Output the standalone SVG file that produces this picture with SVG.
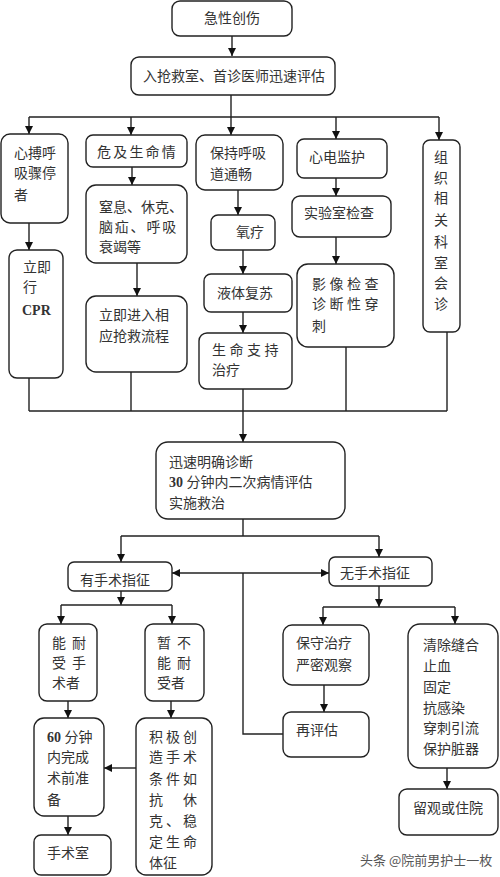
<svg xmlns="http://www.w3.org/2000/svg" width="500" height="877" viewBox="0 0 500 877">
<defs>
<marker id="ah" viewBox="0 0 10 10" markerWidth="8" markerHeight="9" refX="10" refY="5" orient="auto-start-reverse" markerUnits="userSpaceOnUse">
<path d="M0,0 L10,5 L0,10 z" fill="#111"/>
</marker>
<style>
.b{fill:#fff;stroke:#222;stroke-width:1.4}
.t{font-family:"Liberation Serif","Noto Sans CJK SC",serif;font-size:14px;fill:#333}
.c{fill:none;stroke:#222;stroke-width:1.4}
.a{marker-end:url(#ah)}
.wm{font-family:"Noto Sans CJK SC",sans-serif;font-size:13px;fill:#555}
</style>
</defs>
<rect width="500" height="877" fill="#fff"/>
<g id="connectors">
<path class="c a" d="M232 36V56"/>
<path class="c" d="M231 95V117M29 117H439"/>
<path class="c a" d="M29 117V134"/>
<path class="c a" d="M131 117V135"/>
<path class="c a" d="M231 117V135"/>
<path class="c a" d="M336 117V139"/>
<path class="c a" d="M439 117V140"/>
<path class="c a" d="M29 223V250"/>
<path class="c a" d="M132 167V185"/>
<path class="c a" d="M137 263V296"/>
<path class="c a" d="M238 190V215"/>
<path class="c a" d="M243 250V274"/>
<path class="c a" d="M243 312V333"/>
<path class="c a" d="M336 178V196"/>
<path class="c a" d="M336 237V264"/>
<path class="c" d="M29 378V411M131 372V411M243 389V411M346 347V411M447 332V411M29 411H447"/>
<path class="c a" d="M243 411V442"/>
<path class="c" d="M243 519V536M121 536H379"/>
<path class="c a" d="M121 536V562"/>
<path class="c a" d="M379 536V557"/>
<path class="c a" d="M172 573H329" marker-start="url(#ah)"/>
<path class="c" d="M243 573V734H283"/>
<path class="c a" d="M121 591V605"/>
<path class="c" d="M61 605H172"/>
<path class="c a" d="M61 605V624"/>
<path class="c a" d="M172 605V624"/>
<path class="c a" d="M68 701V718"/>
<path class="c a" d="M171 701V718"/>
<path class="c a" d="M136 768H104"/>
<path class="c a" d="M68 816V835"/>
<path class="c a" d="M379 586V607"/>
<path class="c" d="M323 607H455"/>
<path class="c a" d="M323 607V625"/>
<path class="c a" d="M455 607V624"/>
<path class="c a" d="M324 685V712"/>
<path class="c a" d="M447 768V789"/>
</g>
<g id="n1"><rect class="b" x="172" y="1" width="120" height="35" rx="8"/><text class="t" x="204" y="23">急性创伤</text></g>
<g id="n2"><rect class="b" x="131" y="57" width="204" height="38" rx="8"/><text class="t" x="143" y="81">入抢救室、首诊医师迅速评估</text></g>
<g id="n3"><rect class="b" x="1" y="134" width="67" height="89" rx="9"/><text class="t" x="14" y="158">心搏呼</text><text class="t" x="14" y="178">吸骤停</text><text class="t" x="14" y="200">者</text></g>
<g id="n4"><rect class="b" x="9" y="250" width="54" height="128" rx="8"/><text class="t" x="23" y="272">立即</text><text class="t" x="23" y="292">行</text><text class="t" x="22" y="315" font-weight="bold">CPR</text></g>
<g id="n5"><rect class="b" x="86" y="135" width="101" height="32" rx="7"/><text class="t" x="97" y="157" letter-spacing="2.2">危及生命情</text></g>
<g id="n6"><rect class="b" x="86" y="185" width="101" height="78" rx="10"/><text class="t" x="99" y="212">窒息、休克、</text><text class="t" x="99" y="232" letter-spacing="1.8">脑疝、呼吸</text><text class="t" x="99" y="252">衰竭等</text></g>
<g id="n7"><rect class="b" x="86" y="296" width="101" height="76" rx="10"/><text class="t" x="99" y="320">立即进入相</text><text class="t" x="99" y="341">应抢救流程</text></g>
<g id="n8"><rect class="b" x="196" y="135" width="87" height="55" rx="9"/><text class="t" x="210" y="158">保持呼吸</text><text class="t" x="210" y="179">道通畅</text></g>
<g id="n9"><rect class="b" x="211" y="215" width="64" height="35" rx="7"/><text class="t" x="236" y="237">氧疗</text></g>
<g id="n10"><rect class="b" x="204" y="274" width="88" height="38" rx="7"/><text class="t" x="217" y="298">液体复苏</text></g>
<g id="n11"><rect class="b" x="199" y="333" width="93" height="56" rx="8"/><text class="t" x="212" y="355" letter-spacing="3.5">生命支持</text><text class="t" x="212" y="375">治疗</text></g>
<g id="n12"><rect class="b" x="297" y="139" width="90" height="39" rx="7"/><text class="t" x="309" y="162">心电监护</text></g>
<g id="n13"><rect class="b" x="292" y="196" width="99" height="41" rx="8"/><text class="t" x="304" y="218">实验室检查</text></g>
<g id="n14"><rect class="b" x="297" y="264" width="97" height="83" rx="11"/><text class="t" x="312" y="289" letter-spacing="3.5">影像检查</text><text class="t" x="312" y="309" letter-spacing="3.5">诊断性穿</text><text class="t" x="312" y="331">刺</text></g>
<g id="n15"><rect class="b" x="423" y="140" width="37" height="192" rx="7"/>
<text class="t" text-anchor="middle" x="441" y="162">组</text><text class="t" text-anchor="middle" x="441" y="183">织</text><text class="t" text-anchor="middle" x="441" y="203">相</text><text class="t" text-anchor="middle" x="441" y="225">关</text><text class="t" text-anchor="middle" x="441" y="247">科</text><text class="t" text-anchor="middle" x="441" y="268">室</text><text class="t" text-anchor="middle" x="441" y="288">会</text><text class="t" text-anchor="middle" x="441" y="309">诊</text></g>
<g id="n16"><rect class="b" x="156" y="442" width="189" height="77" rx="12"/><text class="t" x="169" y="467">迅速明确诊断</text><text class="t" x="169" y="487"><tspan font-weight="bold">30</tspan> 分钟内二次病情评估</text><text class="t" x="169" y="508">实施救治</text></g>
<g id="n17"><rect class="b" x="68" y="562" width="104" height="29" rx="6"/><text class="t" x="80" y="585">有手术指征</text></g>
<g id="n18"><rect class="b" x="329" y="557" width="103" height="29" rx="6"/><text class="t" x="340" y="578">无手术指征</text></g>
<g id="n19"><rect class="b" x="39" y="624" width="58" height="77" rx="8"/><text class="t" x="52 72" y="648">能耐</text><text class="t" x="52 72" y="668">受手</text><text class="t" x="52" y="688">术者</text></g>
<g id="n20"><rect class="b" x="145" y="624" width="59" height="77" rx="8"/><text class="t" x="157 177" y="648">暂不</text><text class="t" x="157 177" y="668">能耐</text><text class="t" x="157" y="688">受者</text></g>
<g id="n21"><rect class="b" x="34" y="718" width="70" height="98" rx="10"/><text class="t" x="47" y="742"><tspan font-weight="bold">60</tspan> 分钟</text><text class="t" x="47" y="762">内完成</text><text class="t" x="47" y="783">术前准</text><text class="t" x="47" y="805">备</text></g>
<g id="n22"><rect class="b" x="34" y="835" width="77" height="40" rx="7"/><text class="t" x="47" y="858">手术室</text></g>
<g id="n23"><rect class="b" x="136" y="718" width="76" height="157" rx="10"/>
<text class="t" x="149 166 183" y="742">积极创</text><text class="t" x="149 166 183" y="762">造手术</text><text class="t" x="149 166 183" y="784">条件如</text><text class="t" x="149 183" y="805">抗休</text><text class="t" x="149 166 183" y="826">克、稳</text><text class="t" x="149 166 183" y="847">定生命</text><text class="t" x="149" y="868">体征</text></g>
<g id="n24"><rect class="b" x="283" y="625" width="86" height="60" rx="9"/><text class="t" x="296" y="648">保守治疗</text><text class="t" x="296" y="670">严密观察</text></g>
<g id="n25"><rect class="b" x="283" y="712" width="86" height="45" rx="8"/><text class="t" x="296" y="735">再评估</text></g>
<g id="n26"><rect class="b" x="408" y="624" width="90" height="144" rx="12"/><text class="t" x="423" y="650">清除缝合</text><text class="t" x="423" y="671">止血</text><text class="t" x="423" y="692">固定</text><text class="t" x="423" y="713">抗感染</text><text class="t" x="423" y="733">穿刺引流</text><text class="t" x="423" y="754">保护脏器</text></g>
<g id="n27"><rect class="b" x="399" y="789" width="99" height="46" rx="8"/><text class="t" x="413" y="813">留观或住院</text></g>
<text class="wm" x="360" y="865">头条 @院前男护士一枚</text>
</svg>
